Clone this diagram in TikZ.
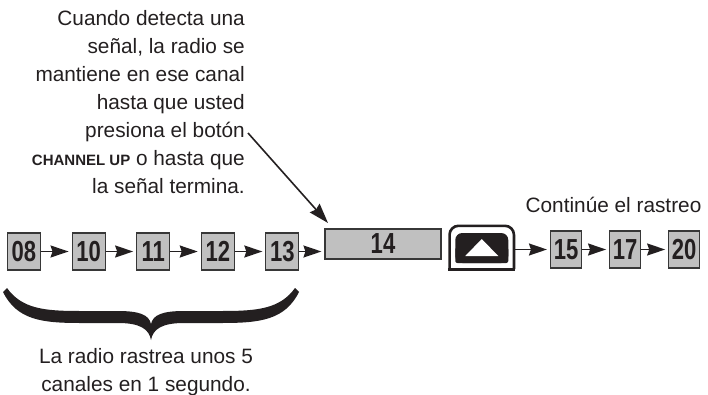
\documentclass[tikz,border=0pt]{standalone}
\usepackage{fontspec}
\setmainfont{Liberation Sans}
\newfontfamily\numfont[FakeStretch=0.76]{Liberation Sans}
\usetikzlibrary{arrows.meta,positioning}
\definecolor{ink}{RGB}{35,31,32}
\definecolor{chgray}{RGB}{192,192,192}
\definecolor{chedge}{RGB}{55,55,55}

\begin{document}
\begin{tikzpicture}[
    x=1pt, y=-1pt,
    node distance=30.5pt,
    chbox/.style={
      draw=chedge,
      fill=chgray,
      line width=1.1pt,
      text=ink,
      minimum width=33pt,
      minimum height=37pt,
      inner sep=0pt,
      font=\numfont\bfseries\fontsize{29}{29}\selectfont
    },
    fwd/.style={-{Stealth[length=18pt,width=12pt,inset=2pt]}, line width=1.7pt, shorten >=3pt, ink},
    callout/.style={-{Stealth[length=20pt,width=13pt,inset=2pt]}, line width=1.6pt, ink},
    say/.style={font=\fontsize{20.8}{28}\selectfont, text=ink, inner sep=0pt}
  ]
  \useasboundingbox (0,0) rectangle (708,395);

  % channels scanned
  \node[chbox] (n08) at (24,251.5) {08};
  \node[chbox, right=of n08] (n10) {10};
  \node[chbox, right=of n10] (n11) {11};
  \node[chbox, right=of n11] (n12) {12};
  \node[chbox, right=of n12] (n13) {13};

  % channel found
  \node[chbox, minimum width=116pt, minimum height=30pt,
        right=25pt of n13, yshift=7.5pt] (n14) {\raisebox{1.5pt}{14}};

  % channel up button
  \node[minimum width=64pt, minimum height=43pt, inner sep=0pt,
        right=8pt of n14, yshift=-3.5pt] (btn) {};
  \draw[ink, line width=2.6pt, rounded corners=9pt]
    (btn.south west) -- (btn.north west) -- (btn.north east) -- (btn.south east);
  \draw[ink, line width=2.6pt, line cap=rect] (btn.south west) -- (btn.south east);
  \begin{scope}[shift={(btn.center)}]
    \fill[ink, rounded corners=7pt] (-26.5,-14.5) rectangle (26.5,15.5);
    \fill[ink, rounded corners=2pt] (-26.5,0) rectangle (26.5,15.5);
    \fill[white] (-16.5,8.5) -- (0,-8.5) -- (16.5,8.5) -- cycle;
  \end{scope}

  % scan goes on
  \node[chbox, minimum width=31pt, right=36pt of btn, yshift=-2pt] (n15) {15};
  \node[chbox, minimum width=31pt, right=27pt of n15] (n17) {17};
  \node[chbox, minimum width=31pt, right=27pt of n17] (n20) {20};

  \foreach \a/\b in {n08/n10, n10/n11, n11/n12, n12/n13, n15/n17, n17/n20}
    \draw[fwd] (\a) -- (\b);
  \draw[fwd] (n13.east) -- (n13.east -| n14.west);
  \draw[fwd] (btn.east |- n15.west) -- (n15.west);

  % texts
  \node[say, align=right, anchor=north east] (note) at (245,10.5)
    {Cuando detecta una\\señal, la radio se\\mantiene en ese canal\\hasta que usted\\presiona el botón\\{\fontsize{15}{15}\selectfont\bfseries CHANNEL UP} o hasta que\\la señal termina.};
  \node[say, anchor=base] (cont) at (613.5,212) {Continúe el rastreo};
  \node[say, align=center, anchor=north] (scanlbl) at (146,348)
    {La radio rastrea unos 5\\canales en 1 segundo.};

  \coordinate (note-tail) at (248,133);
  \coordinate (note-tip) at (328,223);
  \draw[callout] (note-tail) -- (note-tip);

  % brace under the first five
  \fill[ink] (7,288) .. controls (22,309) and (45,311) .. (80,311) -- (118,311)
    .. controls (140,311) and (149,315) .. (151,324)
    .. controls (153,315) and (162,311) .. (184,311) -- (222,311)
    .. controls (257,311) and (280,309) .. (295,288) -- (299,292)
    .. controls (285,320) and (260,323) .. (222,323) -- (184,323)
    .. controls (162,323) and (153,329) .. (151,340)
    .. controls (149,329) and (140,323) .. (118,323) -- (80,323)
    .. controls (42,323) and (17,320) .. (3,292) -- cycle;
\end{tikzpicture}
\end{document}
